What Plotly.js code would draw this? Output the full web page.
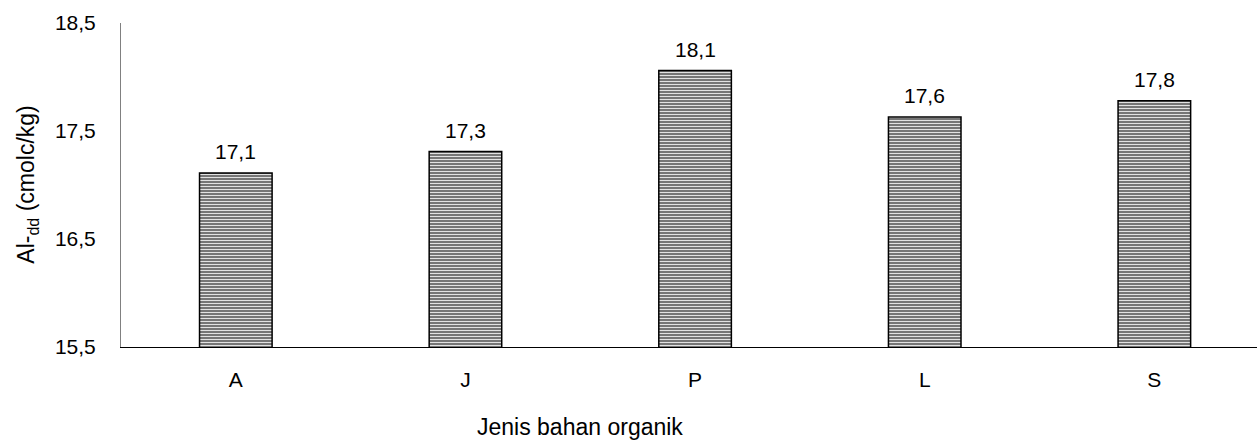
<!DOCTYPE html>
<html>
<head>
<meta charset="utf-8">
<script src="https://cdn.plot.ly/plotly-3.0.1.min.js"></script>
<style>
  html, body { margin: 0; padding: 0; background: #fff; }
  #chart { width: 1257px; height: 441px; }
</style>
</head>
<body>
<div id="chart"></div>
<script>
const categories = ['A', 'J', 'P', 'L', 'S'];
const values = [17.11, 17.31, 18.06, 17.63, 17.78];
const valueLabels = ['17,1', '17,3', '18,1', '17,6', '17,8'];
const yTickValues = [15.5, 16.5, 17.5, 18.5];
const yTickLabels = ['15,5', '16,5', '17,5', '18,5'];
const xTitle = 'Jenis bahan organik';
const yTitle = 'Al-<sub>dd</sub> (cmolc/kg)';

const FONT = 'Liberation Sans, Arial, sans-serif';

const trace = {
  type: 'bar',
  x: categories,
  y: values,
  width: 0.316,
  marker: {
    color: '#6e6e6e',
    line: { color: '#000000', width: 1.5 },
    pattern: {
      shape: '-',
      fgcolor: '#e2e2e2',
      bgcolor: '#6a6a6a',
      size: 3,
      solidity: 0.4,
      fillmode: 'replace'
    }
  },
  hoverinfo: 'none'
};

const labelAnnotations = categories.map((c, i) => ({
  x: c, y: values[i], xref: 'x', yref: 'y',
  text: valueLabels[i], showarrow: false,
  yanchor: 'bottom', xanchor: 'center', yshift: 8,
  font: { family: FONT, size: 21, color: '#000' }
}));

const layout = {
  width: 1257, height: 441,
  margin: { l: 121, r: 0, t: 23, b: 94, pad: 0 },
  paper_bgcolor: '#ffffff',
  plot_bgcolor: '#ffffff',
  showlegend: false,
  separators: ',.',
  font: { family: FONT, size: 21, color: '#000' },
  xaxis: {
    type: 'category',
    range: [-0.5, 4.447],
    showgrid: false,
    zeroline: false,
    showline: true,
    linecolor: '#000000',
    linewidth: 1,
    ticks: '',
    ticklabelstandoff: 14,
    tickfont: { family: FONT, size: 21, color: '#000' },
    fixedrange: true
  },
  yaxis: {
    range: [15.5, 18.5],
    tickvals: yTickValues,
    ticktext: yTickLabels,
    showgrid: false,
    zeroline: false,
    showline: true,
    linecolor: '#808080',
    linewidth: 1,
    ticks: '',
    ticklabelstandoff: 20,
    tickfont: { family: FONT, size: 21, color: '#000' },
    fixedrange: true
  },
  annotations: labelAnnotations.concat([
    {
      xref: 'paper', yref: 'paper', x: 0.404, y: 0,
      yanchor: 'top', xanchor: 'center', yshift: -65,
      text: xTitle, showarrow: false,
      font: { family: FONT, size: 23, color: '#000' }
    },
    {
      xref: 'paper', yref: 'paper', x: -0.083, y: 0.5,
      xanchor: 'center', yanchor: 'middle', textangle: -90,
      text: yTitle, showarrow: false,
      font: { family: FONT, size: 23, color: '#000' }
    }
  ])
};

Plotly.newPlot('chart', [trace], layout, { displayModeBar: false, staticPlot: true });
</script>
</body>
</html>
